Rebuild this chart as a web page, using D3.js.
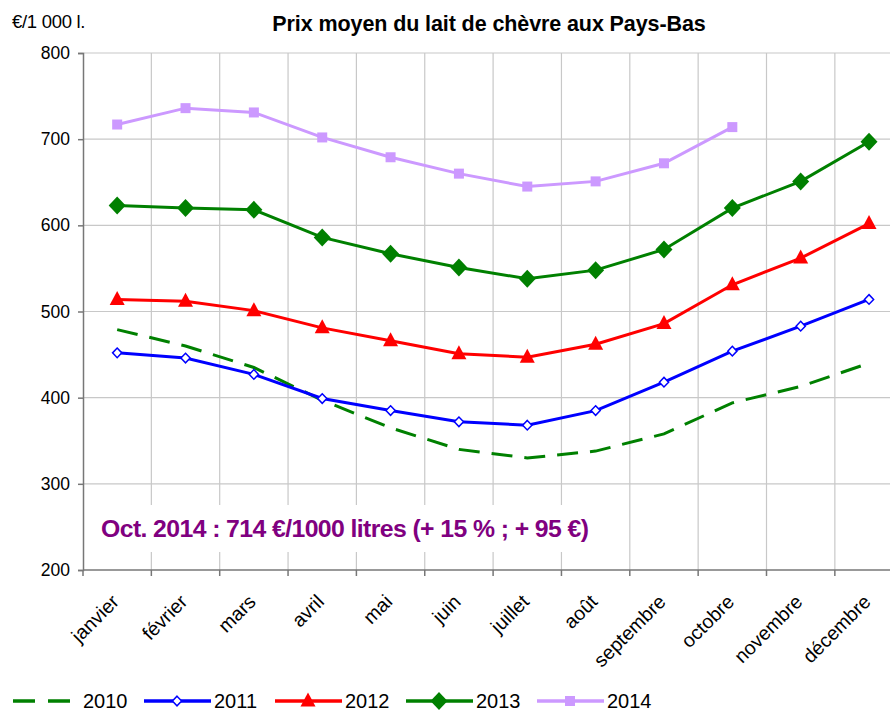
<!DOCTYPE html>
<html>
<head>
<meta charset="utf-8">
<script src="https://cdn.jsdelivr.net/npm/d3@7"></script>
<style>
  body { margin: 0; background: #fff; }
  svg { font-family: "Liberation Sans", Arial, sans-serif; display: block; }
</style>
</head>
<body>
<div id="chart"></div>
<script>
const months = ['janvier', 'février', 'mars', 'avril', 'mai', 'juin', 'juillet', 'août', 'septembre', 'octobre', 'novembre', 'décembre'];
const yTicks = [200, 300, 400, 500, 600, 700, 800];

const v2010 = [479, 460, 435, 397, 365, 340, 330, 338, 358, 394, 413, 440];
const v2011 = [452, 446, 427, 399, 385, 372, 368, 385, 418, 454, 483, 514];
const v2012 = [514, 512, 501, 481, 466, 451, 447, 462, 486, 531, 562, 602];
const v2013 = [623, 620, 618, 586, 567, 551, 538, 548, 572, 620, 651, 697];
const v2014 = [717, 736, 731, 702, 679, 660, 645, 651, 672, 714];

const series = [
  {name: '2010', values: v2010, color: '#008000', dash: '21,12', marker: null},
  {name: '2011', values: v2011, color: '#0000ff', dash: null, marker: 'hollowDiamond'},
  {name: '2012', values: v2012, color: '#ff0000', dash: null, marker: 'triangle'},
  {name: '2013', values: v2013, color: '#008000', dash: null, marker: 'diamond'},
  {name: '2014', values: v2014, color: '#cc99ff', dash: null, marker: 'square'}
];

const W = 890, H = 712;
const margin = {top: 53, left: 83, bottom: 142};
const plotW = 12 * 68.35;

const svg = d3.select('#chart').append('svg')
  .attr('width', W).attr('height', H);

const x = d3.scaleBand().domain(months).range([margin.left, margin.left + plotW]);
const y = d3.scaleLinear().domain([200, 800]).range([H - margin.bottom, margin.top]);

// gridlines
svg.append('g').selectAll('line.h')
  .data(yTicks.slice(1)).enter().append('line')
  .attr('x1', margin.left).attr('x2', margin.left + plotW)
  .attr('y1', d => y(d)).attr('y2', d => y(d))
  .attr('stroke', '#c8c8c8').attr('stroke-width', 1.2);

svg.append('g').selectAll('line.v')
  .data(months.slice(1).concat(['end'])).enter().append('line')
  .attr('x1', (d, i) => margin.left + (i + 1) * x.bandwidth())
  .attr('x2', (d, i) => margin.left + (i + 1) * x.bandwidth())
  .attr('y1', y(800)).attr('y2', y(200))
  .attr('stroke', '#c8c8c8').attr('stroke-width', 1.2);

// annotation (white box hides the grid)
const note = svg.append('g');
note.append('rect')
  .attr('x', 96).attr('y', 505).attr('width', 500).attr('height', 47)
  .attr('fill', '#fff');
note.append('text')
  .attr('x', 101).attr('y', 537)
  .attr('fill', '#800080')
  .attr('font-size', 24.8).attr('font-weight', 'bold')
  .attr('letter-spacing', -0.6)
  .text('Oct. 2014 : 714 €/1000 litres (+ 15 % ; + 95 €)');

// axes
const yAxis = svg.append('g')
  .attr('transform', 'translate(' + margin.left + ',0)')
  .call(d3.axisLeft(y).tickValues(yTicks).tickSize(5).tickPadding(8).tickFormat(d3.format('d')));
yAxis.select('.domain').attr('stroke', '#777').attr('stroke-width', 1.5);
yAxis.selectAll('.tick line').attr('stroke', '#777').attr('stroke-width', 1.5);
yAxis.selectAll('text').attr('font-size', 17.5).attr('fill', '#000')
  .attr('font-family', '"Liberation Sans", Arial, sans-serif');

const xAxis = svg.append('g')
  .attr('transform', 'translate(0,' + y(200) + ')');
xAxis.append('line')
  .attr('x1', margin.left).attr('x2', margin.left + plotW)
  .attr('stroke', '#777').attr('stroke-width', 1.5);
xAxis.selectAll('line.tk')
  .data(months.concat(['end'])).enter().append('line')
  .attr('x1', (d, i) => margin.left + i * x.bandwidth())
  .attr('x2', (d, i) => margin.left + i * x.bandwidth())
  .attr('y1', 0).attr('y2', 6)
  .attr('stroke', '#777').attr('stroke-width', 1.5);
xAxis.selectAll('text')
  .data(months).enter().append('text')
  .attr('transform', d => 'translate(' + (x(d) + x.bandwidth() / 2 + 3) + ',33) rotate(-45)')
  .attr('text-anchor', 'end')
  .attr('font-size', 19.5)
  .attr('fill', '#000')
  .text(d => d);

// lines
const line = d3.line()
  .x((d, i) => x(months[i]) + x.bandwidth() / 2)
  .y(d => y(d));

function drawMarker(g, type, color, cx, cy) {
  if (type === 'hollowDiamond') {
    g.append('path').attr('d', `M${cx},${cy - 4.8}L${cx + 4.6},${cy}L${cx},${cy + 4.8}L${cx - 4.6},${cy}Z`)
      .attr('fill', '#fff').attr('stroke', color).attr('stroke-width', 1.5);
  } else if (type === 'diamond') {
    g.append('path').attr('d', `M${cx},${cy - 9}L${cx + 8.5},${cy}L${cx},${cy + 9}L${cx - 8.5},${cy}Z`)
      .attr('fill', color);
  } else if (type === 'triangle') {
    g.append('path').attr('d', `M${cx},${cy - 8.5}L${cx + 7.5},${cy + 5.5}L${cx - 7.5},${cy + 5.5}Z`)
      .attr('fill', color);
  } else if (type === 'square') {
    g.append('rect').attr('x', cx - 5).attr('y', cy - 5).attr('width', 10).attr('height', 10)
      .attr('fill', color);
  }
}

series.forEach(s => {
  const g = svg.append('g');
  g.append('path')
    .datum(s.values)
    .attr('d', line)
    .attr('fill', 'none')
    .attr('stroke', s.color)
    .attr('stroke-width', 3)
    .attr('stroke-dasharray', s.dash);
  if (s.marker) {
    s.values.forEach((v, i) => {
      drawMarker(g, s.marker, s.color, x(months[i]) + x.bandwidth() / 2, y(v));
    });
  }
});

// title
svg.append('text')
  .attr('x', 489).attr('y', 31)
  .attr('text-anchor', 'middle')
  .attr('font-size', 21.5).attr('font-weight', 'bold')
  .attr('letter-spacing', -0.1)
  .text('Prix moyen du lait de chèvre aux Pays-Bas');

svg.append('text')
  .attr('x', 12).attr('y', 28)
  .attr('font-size', 18.5)
  .attr('letter-spacing', -0.3)
  .text('€/1 000 l.');

// legend
const legendX = [13, 144, 275, 406, 537];
const legend = svg.append('g');
series.forEach((s, i) => {
  const lx = legendX[i], ly = 701;
  legend.append('line')
    .attr('x1', lx).attr('x2', lx + 67)
    .attr('y1', ly).attr('y2', ly)
    .attr('stroke', s.color).attr('stroke-width', 3.5)
    .attr('stroke-dasharray', s.dash ? '22,13' : null);
  if (s.marker) drawMarker(legend, s.marker, s.color, lx + 33, ly);
  legend.append('text')
    .attr('x', lx + 70).attr('y', ly + 7)
    .attr('font-size', 20)
    .text(s.name);
});
</script>
</body>
</html>
